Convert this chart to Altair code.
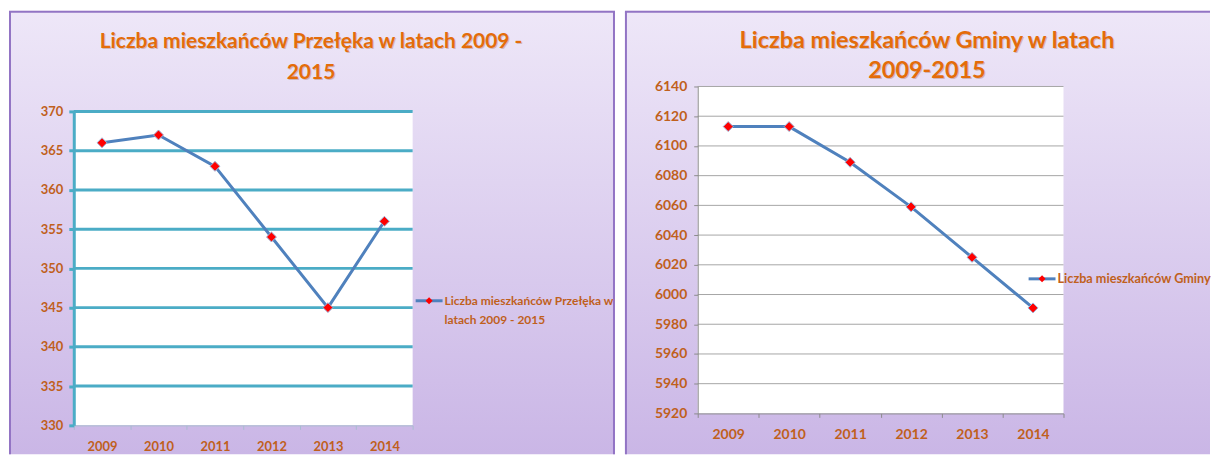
import altair as alt
import pandas as pd

# ---------------- data ----------------
years = ["2009", "2010", "2011", "2012", "2013", "2014"]
przeleka = [366, 367, 363, 354, 345, 356]
gmina = [6113, 6113, 6089, 6059, 6025, 5991]

left_ticks = [330, 335, 340, 345, 350, 355, 360, 365, 370]
left_grid = [335, 340, 345, 350, 355, 360, 365, 370]
right_ticks = [5920, 5940, 5960, 5980, 6000, 6020, 6040, 6060, 6080, 6100, 6120, 6140]
right_grid = [5940, 5960, 5980, 6000, 6020, 6040, 6060, 6080, 6100, 6120, 6140]

left_title = ["Liczba mieszkańców Przełęka w latach 2009 -", "2015"]
right_title = ["Liczba mieszkańców Gminy w latach", "2009-2015"]
left_legend = ["Liczba mieszkańców Przełęka w", "latach 2009 - 2015"]
right_legend = ["Liczba mieszkańców Gminy"]

# ---------------- style ----------------
FONT = "Lato"
TITLE_C = "#E46C0A"
LABEL_C = "#C0601C"
LINE_C = "#4F81BD"
BORDER_C = "#9274C4"
one = alt.Data(values=[{"a": 1}])

grad = alt.LinearGradient(
    gradient="linear",
    stops=[alt.GradientStop(offset=0, color="#EEE7F8"),
           alt.GradientStop(offset=1, color="#CAB6E6")],
    x1=0, x2=0, y1=0, y2=1,
)


def rect(x, x2, y, y2, **kw):
    return alt.Chart(one).mark_rect(**kw).encode(
        x=alt.value(x), x2=alt.value(x2), y=alt.value(y), y2=alt.value(y2))


def rule(x, x2, y, y2, **kw):
    return alt.Chart(one).mark_rule(**kw).encode(
        x=alt.value(x), x2=alt.value(x2), y=alt.value(y), y2=alt.value(y2))


def txt(s, x, y, size, color, align="center", **kw):
    return alt.Chart(one).mark_text(
        text=s, font=FONT, fontWeight="bold", fontSize=size, color=color,
        align=align, baseline="alphabetic", **kw).encode(x=alt.value(x), y=alt.value(y))


def title_layers(lines, cx, ys, size):
    out = []
    for s, y in zip(lines, ys):
        out.append(txt(s, cx, y, size, "#8A3A00", opacity=0.25, dx=1, dy=1))
        out.append(txt(s, cx, y, size, TITLE_C))
    return out


def panel(years, vals, ticks, grid, W, H, top, fx, fx2, fy, fy2, right_border,
          grid_color, grid_w, ycol, ycol_w, xcol, ytick, xpad, ypad, lab_size,
          title_lines, tcx, tys, title_size, leg_lines, lx, ly, lstep, leg_size):
    df = pd.DataFrame({"year": years, "value": vals})
    yscale = alt.Scale(domain=[ticks[0], ticks[-1]], nice=False, zero=False,
                       range=[H, top])
    xscale = alt.Scale(type="band", paddingInner=0, paddingOuter=0)
    yaxis = alt.Axis(values=ticks, title=None, grid=False, format="d",
                     domainColor=ycol, domainWidth=ycol_w, tickColor=ycol,
                     tickWidth=ycol_w, tickSize=ytick, labelPadding=ypad,
                     labelColor=LABEL_C, labelFont=FONT, labelFontWeight="bold",
                     labelFontSize=lab_size, zindex=1)
    xaxis = alt.Axis(title=None, labelAngle=0, tickBand="extent", grid=False,
                     domainColor=xcol, tickColor=xcol, tickSize=4,
                     labelPadding=xpad, labelColor=LABEL_C, labelFont=FONT,
                     labelFontWeight="bold", labelFontSize=lab_size, zindex=1)

    layers = [
        rect(fx, fx2, fy, fy2, fill=grad),
        rule(fx + 1, fx + 1, fy + 1, fy2, color=BORDER_C, strokeWidth=2),
        rule(fx, fx2, fy + 1, fy + 1, color=BORDER_C, strokeWidth=2),
    ]
    if right_border:
        layers.append(rule(fx2 - 1, fx2 - 1, fy + 1, fy2, color=BORDER_C, strokeWidth=2))
    layers.append(rect(0, W, top, H, fill="white"))
    layers.append(
        alt.Chart(pd.DataFrame({"v": grid})).mark_rule(color=grid_color, strokeWidth=grid_w)
        .encode(y=alt.Y("v:Q", scale=yscale, axis=yaxis, title=None),
                x=alt.value(0), x2=alt.value(W)))
    base = alt.Chart(df).encode(
        x=alt.X("year:N", scale=xscale, axis=xaxis, title=None),
        y=alt.Y("value:Q", scale=yscale, axis=yaxis, title=None))
    layers.append(base.mark_line(color=LINE_C, strokeWidth=3))
    layers.append(base.mark_point(shape="diamond", filled=True, fill="#FF0000",
                                  stroke="#9DB7DB", strokeWidth=1, size=100, opacity=1))
    # legend
    layers.append(rule(lx, lx + 27, ly - 4, ly - 4, color=LINE_C, strokeWidth=3))
    layers.append(alt.Chart(one).mark_point(shape="diamond", filled=True, fill="#FF0000",
                                            size=50, opacity=1)
                  .encode(x=alt.value(lx + 13.5), y=alt.value(ly - 4)))
    for i, s in enumerate(leg_lines):
        layers.append(txt(s, lx + 29, ly + i * lstep, leg_size, LABEL_C, align="left"))
    layers += title_layers(title_lines, tcx, tys, title_size)
    return alt.layer(*layers).properties(width=W, height=H)


BOTTOM = 344
left = panel(years, przeleka, left_ticks, left_grid, 340, 315, 0,
             -65, 543, -101, BOTTOM, True,
             "#4BACC6", 3, "#4BACC6", 3, "#A9BCD0", 5, 11, 6, 13,
             left_title, 238, [-64, -33], 21, left_legend, 343, 194, 19, 12)
right = panel(years, gmina, right_ticks, right_grid, 367, 303, -25,
              -73, 514, -101, BOTTOM, False,
              "#A6A6A6", 1, "#8C8C8C", 1, "#8C8C8C", 4, 10, 7, 14,
              right_title, 230, [-64, -34], 23.5, right_legend, 332, 172, 19, 12.7)

chart = alt.hconcat(left, right, spacing=8).properties(
    padding={"left": 0, "top": 2, "right": 0, "bottom": 0},
    background="white",
).configure_view(stroke=None)

chart.save("out.html", embed_options={"renderer": "svg", "actions": False})
